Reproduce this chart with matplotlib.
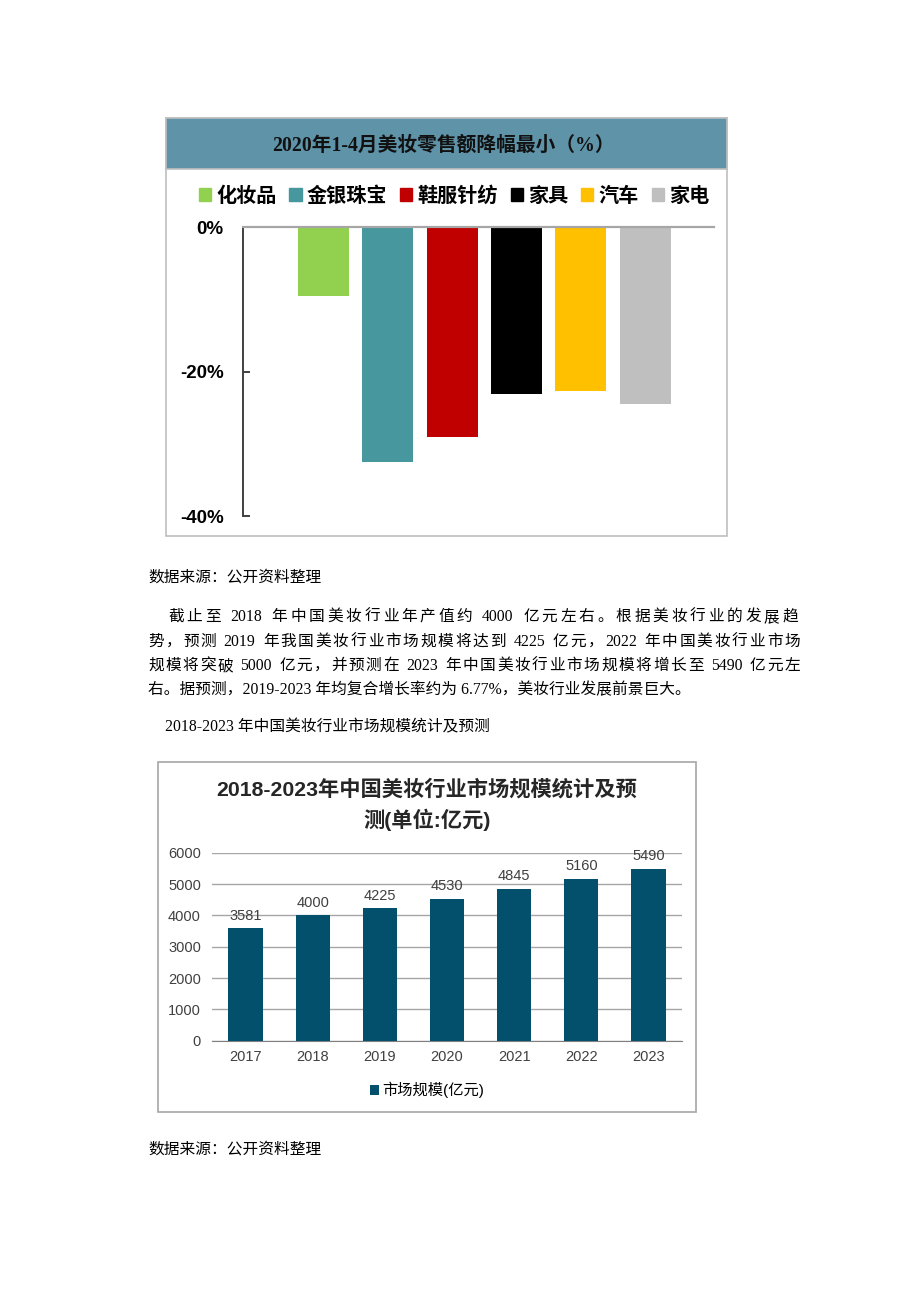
import re
import matplotlib
matplotlib.use("Agg")
import matplotlib.pyplot as plt
from matplotlib.patches import Rectangle

W, H = 920, 1302

# chart 1: 2020年1-4月 零售额降幅
cats1 = ['化妆品', '金银珠宝', '鞋服针纺', '家具', '汽车', '家电']
vals1 = [-9.5, -32.5, -29.1, -23.1, -22.7, -24.5]
cols1 = ['#92D050', '#46979E', '#C00000', '#000000', '#FFC000', '#BFBFBF']
yticks1 = [0, -20, -40]
ylabels1 = ['0%', '-20%', '-40%']

# chart 2: 市场规模
years = ['2017', '2018', '2019', '2020', '2021', '2022', '2023']
sizes = [3581, 4000, 4225, 4530, 4845, 5160, 5490]

para = [
    '截止至 2018 年中国美妆行业年产值约 4000 亿元左右。根据美妆行业的发展趋',
    '势，预测 2019 年我国美妆行业市场规模将达到 4225 亿元，2022 年中国美妆行业市场',
    '规模将突破 5000 亿元，并预测在 2023 年中国美妆行业市场规模将增长至 5490 亿元左',
    '右。据预测，2019-2023 年均复合增长率约为 6.77%，美妆行业发展前景巨大。',
]

SERIF = ['Liberation Serif', 'Noto Sans CJK SC']
SANS = ['Liberation Sans', 'Noto Sans CJK SC']
BODY = 11.3


def fx(x):
    return x / W


def fy(y):
    return 1 - y / H


def box(ax_rect, **kw):
    x0, y0, x1, y1 = ax_rect
    return Rectangle((fx(x0), fy(y1)), (x1 - x0) / W, (y1 - y0) / H,
                     transform=fig.transFigure, zorder=-2, **kw)


def axes_px(x0, y0, x1, y1):
    a = fig.add_axes([fx(x0), fy(y1), (x1 - x0) / W, (y1 - y0) / H])
    a.patch.set_alpha(0)
    return a


fig = plt.figure(figsize=(W / 100, H / 100), dpi=100)
fig.patch.set_facecolor('white')

# ---------- chart 1 ----------
fig.patches.append(box((166, 118, 727, 536), fc='white', ec='#BFBFBF', lw=1.2))
fig.patches.append(box((166, 118, 727, 169), fc='#5E93A8', ec='#BFBFBF', lw=1.2))
fig.text(fx(443), fy(146), '2020年1-4月美妆零售额降幅最小（%）', ha='center', va='center',
         fontsize=14.2, fontweight='bold', family=SERIF, color='#111111')

ax1 = axes_px(243, 227.3, 714, 516)
x1 = list(range(len(cats1)))
bars = ax1.bar(x1, vals1, width=0.79, color=cols1)
ax1.set_xlim(-1.25, 6.07)
ax1.set_ylim(-40, 0)
ax1.set_yticks(yticks1)
ax1.set_yticklabels(ylabels1, fontsize=13.5, fontweight='bold', family=SANS)
ax1.set_xticks([])
for s in ['right', 'bottom']:
    ax1.spines[s].set_visible(False)
ax1.spines['top'].set_color('#A6A6A6')
ax1.spines['top'].set_linewidth(1.6)
ax1.spines['left'].set_color('#404040')
ax1.spines['left'].set_linewidth(1.4)
ax1.tick_params(axis='y', direction='in', length=5, width=1.4, color='#404040', pad=14)

handles1 = [Rectangle((0, 0), 1, 1, color=c) for c in cols1]
fig.legend(handles1, cats1, loc='center', bbox_to_anchor=(fx(454), fy(196)), ncol=6,
           frameon=False, handlelength=0.6, handleheight=0.6, handletextpad=0.25,
           columnspacing=0.65, prop={'family': SANS, 'weight': 'bold', 'size': 14.5})

# ---------- text ----------
fig.text(fx(148), fy(578), '数据来源：公开资料整理', ha='left', va='center', fontsize=BODY, family=SERIF)

fig.canvas.draw()
rend = fig.canvas.get_renderer()


def justify(s, x0, x1, y, size=BODY):
    units = re.findall(r'[A-Za-z0-9.%\-]+| |[^ ]', s)
    ws = []
    for u in units:
        if u == ' ':
            ws.append(4.0)
            continue
        t = fig.text(0, 0, u, fontsize=size, family=SERIF)
        ws.append(t.get_window_extent(renderer=rend).width)
        t.remove()
    gaps = len(units) - 1
    extra = (x1 - x0 - sum(ws)) / gaps if gaps else 0
    x = x0
    for u, w in zip(units, ws):
        if u != ' ':
            fig.text(fx(x), fy(y), u, ha='left', va='center', fontsize=size, family=SERIF)
        x += w + extra


justify(para[0], 168, 798, 617)
justify(para[1], 148, 800, 642)
justify(para[2], 148, 800, 666)
fig.text(fx(148), fy(690), para[3], ha='left', va='center', fontsize=BODY, family=SERIF)
fig.text(fx(165), fy(727), '2018-2023 年中国美妆行业市场规模统计及预测', ha='left', va='center',
         fontsize=BODY, family=SERIF)

# ---------- chart 2 ----------
fig.patches.append(box((158, 762, 696, 1112), fc='white', ec='#A6A6A6', lw=1.2))
fig.text(fx(427), fy(789), '2018-2023年中国美妆行业市场规模统计及预', ha='center', va='center',
         fontsize=15.3, fontweight='bold', family=SANS, color='#262626')
fig.text(fx(427), fy(820), '测(单位:亿元)', ha='center', va='center',
         fontsize=15.3, fontweight='bold', family=SANS, color='#262626')

ax2 = axes_px(212, 852.7, 682, 1040.7)
x2 = list(range(len(years)))
b2 = ax2.bar(x2, sizes, width=0.51, color='#02506B', zorder=3, label='市场规模(亿元)')
ax2.bar_label(b2, labels=[str(v) for v in sizes], padding=4, fontsize=10.5,
              family=SANS, color='#404040')
ax2.set_xlim(-0.5, 6.5)
ax2.set_ylim(0, 6000)
ax2.set_yticks(range(0, 6001, 1000))
ax2.set_yticklabels([str(v) for v in range(0, 6001, 1000)], fontsize=10.5, family=SANS, color='#404040')
ax2.set_xticks(x2)
ax2.set_xticklabels(years, fontsize=10.5, family=SANS, color='#404040')
ax2.grid(axis='y', color='#A6A6A6', lw=1, zorder=0)
ax2.set_axisbelow(True)
for s in ['top', 'right', 'left']:
    ax2.spines[s].set_visible(False)
ax2.spines['bottom'].set_color('#808080')
ax2.tick_params(axis='both', length=0)
ax2.tick_params(axis='y', pad=8)
ax2.tick_params(axis='x', pad=7)

fig.legend(loc='center', bbox_to_anchor=(fx(427), fy(1090)), frameon=False,
           handlelength=0.6, handleheight=0.6, handletextpad=0.2,
           prop={'family': SANS, 'size': 11})

fig.text(fx(148), fy(1150), '数据来源：公开资料整理', ha='left', va='center', fontsize=BODY, family=SERIF)

fig.savefig('out.png', dpi=100)
